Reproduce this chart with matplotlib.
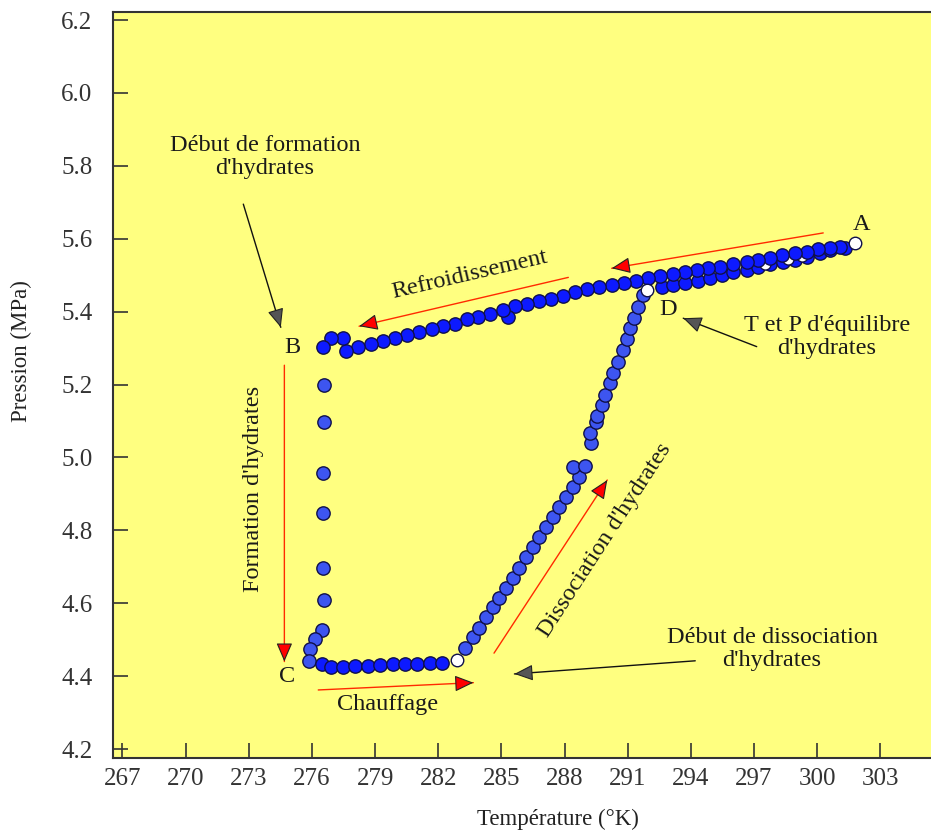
import numpy as np
import matplotlib
matplotlib.use('Agg')
import matplotlib.pyplot as plt

plt.rcParams['font.family'] = ['Liberation Serif', 'DejaVu Serif']

# cooling A -> B (upper row, right to left)
cool_T = [301.32, 301.09, 300.61, 300.06, 299.5, 298.95, 298.31, 297.76, 297.2, 296.65, 296.02,
          295.38, 294.83, 294.28, 293.72, 293.17, 292.53, 291.98, 291.4, 290.82, 290.24, 289.65,
          289.08, 288.5, 287.91, 287.34, 286.8, 286.2, 285.65, 285.33, 285.06, 284.46, 283.9,
          283.35, 282.8, 282.21, 281.69, 281.1, 280.5, 279.95, 279.36, 278.79, 278.2, 277.62,
          277.46, 276.89, 276.51]
cool_P = [5.576, 5.578, 5.576, 5.571, 5.564, 5.562, 5.555, 5.546, 5.542, 5.537, 5.531,
          5.523, 5.519, 5.514, 5.509, 5.503, 5.498, 5.491, 5.485, 5.479, 5.473, 5.468,
          5.462, 5.455, 5.443, 5.436, 5.43, 5.421, 5.415, 5.384, 5.404, 5.393, 5.386,
          5.379, 5.366, 5.361, 5.352, 5.345, 5.336, 5.329, 5.32, 5.311, 5.304, 5.293,
          5.327, 5.329, 5.302]

# hydrate formation B -> C
form_T = [276.57, 276.57, 276.51, 276.51, 276.51, 276.57, 276.46, 276.14, 275.9, 275.87]
form_P = [5.199, 5.096, 4.956, 4.848, 4.696, 4.609, 4.526, 4.501, 4.474, 4.441]

# heating, bottom line
heat_T = [276.46, 276.89, 277.46, 278.05, 278.65, 279.23, 279.84, 280.42, 281.0, 281.61, 282.19]
heat_P = [4.433, 4.426, 4.426, 4.429, 4.429, 4.430, 4.432, 4.432, 4.433, 4.435, 4.437]

# dissociation, rising to D
diss_T = [283.27, 283.64, 283.95, 284.27, 284.59, 284.9, 285.22, 285.54, 285.85, 286.17, 286.49,
          286.8, 287.12, 287.44, 287.75, 288.07, 288.39, 288.7, 288.39, 288.97, 289.24, 289.21,
          289.49, 289.53, 289.76, 289.92, 290.16, 290.32, 290.55, 290.76, 290.95, 291.11, 291.3,
          291.5, 291.71]
diss_P = [4.476, 4.506, 4.533, 4.561, 4.589, 4.615, 4.643, 4.670, 4.697, 4.727, 4.755,
          4.782, 4.810, 4.837, 4.865, 4.892, 4.920, 4.947, 4.975, 4.977, 5.039, 5.066,
          5.098, 5.114, 5.144, 5.171, 5.203, 5.232, 5.263, 5.295, 5.324, 5.354, 5.382,
          5.413, 5.445]

# return D -> A (lower row)
ret_T = [292.61, 293.17, 293.72, 294.35, 294.91, 295.47, 296.02, 296.65, 297.2, 297.76, 298.39,
         298.95, 299.5, 300.13, 300.61]
ret_P = [5.468, 5.473, 5.478, 5.485, 5.491, 5.500, 5.509, 5.514, 5.523, 5.532, 5.537,
         5.542, 5.551, 5.560, 5.569]

# open markers (A, start of dissociation, D)
open_T = [301.8, 282.88, 291.93]
open_P = [5.587, 4.444, 5.459]
# open markers partly hidden in the upper band
hid_T = [297.5, 298.6, 299.3]
hid_P = [5.530, 5.545, 5.553]

xticks = np.arange(267, 304, 3)
yticks = np.arange(4.2, 6.21, 0.2)

fig = plt.figure(figsize=(9.31, 8.32), dpi=100)
ax = fig.add_axes([113.3 / 931, 1 - 758.3 / 832, 1 - 113.3 / 931, (758.3 - 11.7) / 832])
ax.set_facecolor('#ffff80')
ax.set_xlim(266.563, 305.41)
ax.set_ylim(4.1745, 6.223)

dark = '#0d1aff'
light = '#3d55f0'
kw = dict(ls='none', marker='o', ms=9.6, mew=1.0, mec='#10104a')
ax.plot(ret_T, ret_P, mfc=dark, **kw)
ax.plot(hid_T, hid_P, ls='none', marker='o', ms=8, mew=1.0, mec='#10104a', mfc='white')
ax.plot(cool_T, cool_P, mfc=dark, **kw)
ax.plot(form_T, form_P, mfc=light, **kw)
ax.plot(heat_T, heat_P, mfc=dark, **kw)
ax.plot(diss_T, diss_P, mfc=light, **kw)
ax.plot(open_T, open_P, ls='none', marker='o', ms=9, mew=1.0, mec='#10104a', mfc='white')

ax.set_xticks(xticks)
ax.set_yticks(yticks)
ax.set_yticklabels(['%.1f' % v for v in yticks])
ax.tick_params(direction='in', length=11, width=1.2, colors='#333333', labelsize=18)
ax.tick_params(axis='y', pad=15)
ax.tick_params(axis='x', pad=7)
for s in ['left', 'bottom', 'top']:
    ax.spines[s].set_linewidth(1.5)
    ax.spines[s].set_color('#333333')
ax.spines['right'].set_visible(False)

ax.set_xlabel('Température (°K)', fontsize=16.5, color='#222222', va='center')
ax.set_ylabel('Pression (MPa)', fontsize=16.5, color='#222222', va='center')
ax.xaxis.set_label_coords((558 - 113.3) / 817.7, (758.3 - 819) / 746.6)
ax.yaxis.set_label_coords((21 - 113.3) / 817.7, (758.3 - 351) / 746.6)

tc = '#1a1a1a'
fs = 17.5


def arrow(tail, tip, line_c, head_fc):
    ax.annotate('', xy=tip, xytext=tail,
                arrowprops=dict(arrowstyle='-', color=line_c, lw=1.0, shrinkA=0, shrinkB=0))
    p1 = ax.transData.transform(tail)
    p2 = ax.transData.transform(tip)
    d = (p2 - p1) / np.hypot(*(p2 - p1)) * 11.5
    ax.annotate('', xy=tip, xytext=(-d[0], -d[1]), textcoords='offset points',
                arrowprops=dict(arrowstyle='-|>,head_length=0.58,head_width=0.25',
                                mutation_scale=20, fc=head_fc, ec='#222222', lw=0.8,
                                shrinkA=0, shrinkB=0))


red = '#ff2a00'
gray = '#555555'
arrow((300.29, 5.616), (290.24, 5.519), red, '#ff0000')
arrow((288.18, 5.494), (278.24, 5.360), red, '#ff0000')
arrow((274.69, 5.253), (274.69, 4.44), red, '#ff0000')
arrow((276.3, 4.362), (283.67, 4.382), red, '#ff0000')
arrow((284.65, 4.463), (290.03, 4.938), red, '#ff0000')
arrow((272.74, 5.695), (274.52, 5.357), '#111111', gray)
arrow((297.13, 5.304), (293.64, 5.382), '#111111', gray)
arrow((294.21, 4.442), (285.62, 4.406), '#111111', gray)

ax.text(273.77, 5.824, "Début de formation\nd'hydrates", ha='center', va='center',
        fontsize=fs, color=tc, linespacing=1.15)
ax.text(300.47, 5.330, "T et P d'équilibre\nd'hydrates", ha='center', va='center',
        fontsize=fs, color=tc, linespacing=1.15)
ax.text(297.86, 4.474, "Début de dissociation\nd'hydrates", ha='center', va='center',
        fontsize=fs, color=tc, linespacing=1.15)
ax.text(283.51, 5.50, 'Refroidissement', ha='center', va='center', rotation=13,
        fontsize=fs, color=tc)
ax.text(279.57, 4.321, 'Chauffage', ha='center', va='center', fontsize=fs, color=tc)
ax.text(273.2, 4.913, "Formation d'hydrates", ha='center', va='center', rotation=90,
        fontsize=fs, color=tc)
ax.text(289.92, 4.773, "Dissociation d'hydrates", ha='center', va='center', rotation=57,
        fontsize=fs, color=tc)
ax.text(302.12, 5.638, 'A', ha='center', va='center', fontsize=fs, color=tc)
ax.text(275.06, 5.303, 'B', ha='center', va='center', fontsize=fs, color=tc)
ax.text(274.82, 4.398, 'C', ha='center', va='center', fontsize=fs, color=tc)
ax.text(292.92, 5.407, 'D', ha='center', va='center', fontsize=fs, color=tc)

fig.savefig('out.png', dpi=100)
